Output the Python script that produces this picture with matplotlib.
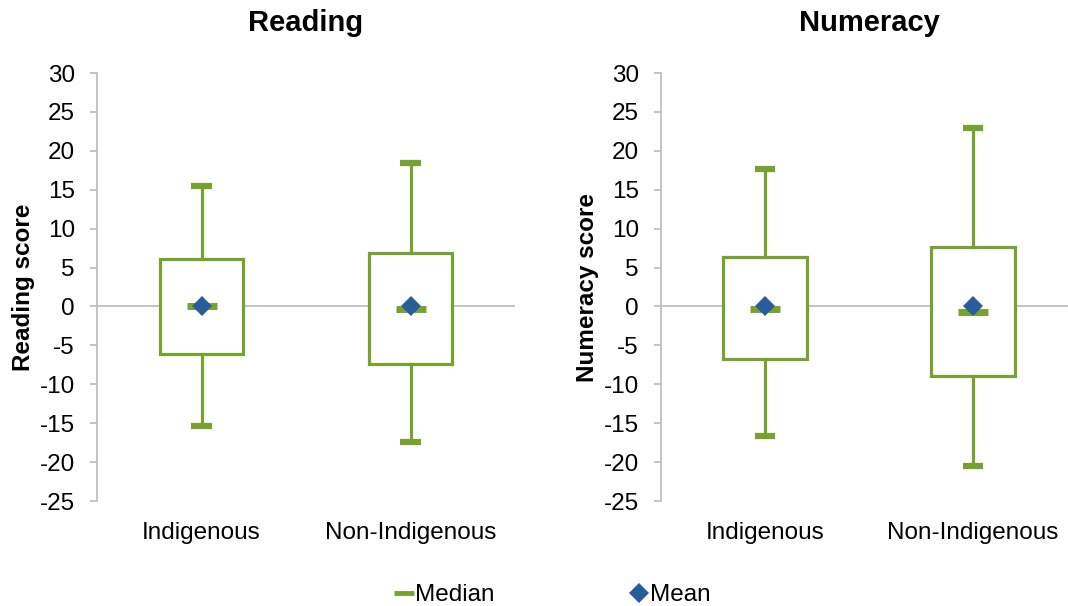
import matplotlib
matplotlib.use("Agg")
import matplotlib.pyplot as plt
from matplotlib.lines import Line2D

plt.rcParams['font.family'] = ['Liberation Sans', 'DejaVu Sans']

categories = ["Indigenous", "Non-Indigenous"]
titles = ["Reading", "Numeracy"]
ylabels = ["Reading score", "Numeracy score"]

# per panel: [Indigenous, Non-Indigenous]
whisker_low = [[-15.3, -17.4], [-16.7, -20.5]]
q1 = [[-6.1, -7.4], [-6.7, -8.9]]
median = [[0.0, -0.3], [-0.3, -0.7]]
q3 = [[6.1, 6.9], [6.4, 7.6]]
whisker_high = [[15.5, 18.4], [17.7, 22.9]]
mean = [[0.0, 0.0], [0.0, 0.0]]

yticks = list(range(-25, 31, 5))

GREEN = "#78A22F"
BLUE = "#2A5C9A"
GRAY = "#BFBFBF"
FS = 17.5

fig = plt.figure(figsize=(10.68, 6.06), dpi=100)
W, H = 1068, 606
axes_px = [(97, 515), (661, 1077)]
top_px, bot_px = 73, 501

for p in range(2):
    x0, x1 = axes_px[p]
    ax = fig.add_axes([x0 / W, 1 - bot_px / H, (x1 - x0) / W, (bot_px - top_px) / H])
    ax.set_facecolor('none')
    stats = []
    for i in range(2):
        stats.append(dict(whislo=whisker_low[p][i], q1=q1[p][i], med=median[p][i],
                          q3=q3[p][i], whishi=whisker_high[p][i], fliers=[]))
    ax.axhline(0, color=GRAY, lw=1.3, zorder=1)
    positions = [0.5, 1.5]
    ax.bxp(stats, positions=positions, widths=0.4, capwidths=0.1, patch_artist=True,
           showfliers=False, showmeans=False,
           boxprops=dict(facecolor='white', edgecolor=GREEN, linewidth=2.3),
           whiskerprops=dict(color=GREEN, linewidth=2.3),
           capprops=dict(color=GREEN, linewidth=4.5, solid_capstyle='butt'),
           medianprops=dict(linewidth=0), zorder=2)
    ax.plot(positions, median[p], linestyle='none', marker='_', markersize=22,
            markeredgewidth=5, color=GREEN, zorder=3)
    ax.plot(positions, mean[p], linestyle='none', marker='D', markersize=10,
            color=BLUE, markeredgewidth=0, zorder=4)
    ax.set_xlim(0, 2)
    ax.set_ylim(-25, 30)
    ax.set_yticks(yticks)
    ax.set_yticklabels([str(v) for v in yticks], fontsize=FS)
    ax.set_xticks(positions)
    ax.set_xticklabels(categories, fontsize=FS)
    ax.tick_params(axis='x', length=0, pad=15)
    ax.tick_params(axis='y', length=5, color=GRAY, width=1.3, pad=11)
    for s in ['top', 'right', 'bottom']:
        ax.spines[s].set_visible(False)
    ax.spines['left'].set_color(GRAY)
    ax.spines['left'].set_linewidth(1.3)
    ax.set_title(titles[p], fontsize=21, fontweight='bold', pad=30)
    ax.set_ylabel(ylabels[p], fontsize=FS, fontweight='bold', labelpad=3)

handles = [Line2D([], [], linestyle='none', marker='_', markersize=14, markeredgewidth=3.5, color=GREEN),
           Line2D([], [], linestyle='none', marker='D', markersize=10, markeredgewidth=0, color=BLUE)]
fig.legend(handles, ["Median", "Mean"], loc='center', bbox_to_anchor=(553 / W, 1 - 595 / H),
           ncol=2, frameon=False, fontsize=FS, handlelength=0.7, handletextpad=0.1,
           columnspacing=5.6)

fig.savefig("out.png", dpi=100)
